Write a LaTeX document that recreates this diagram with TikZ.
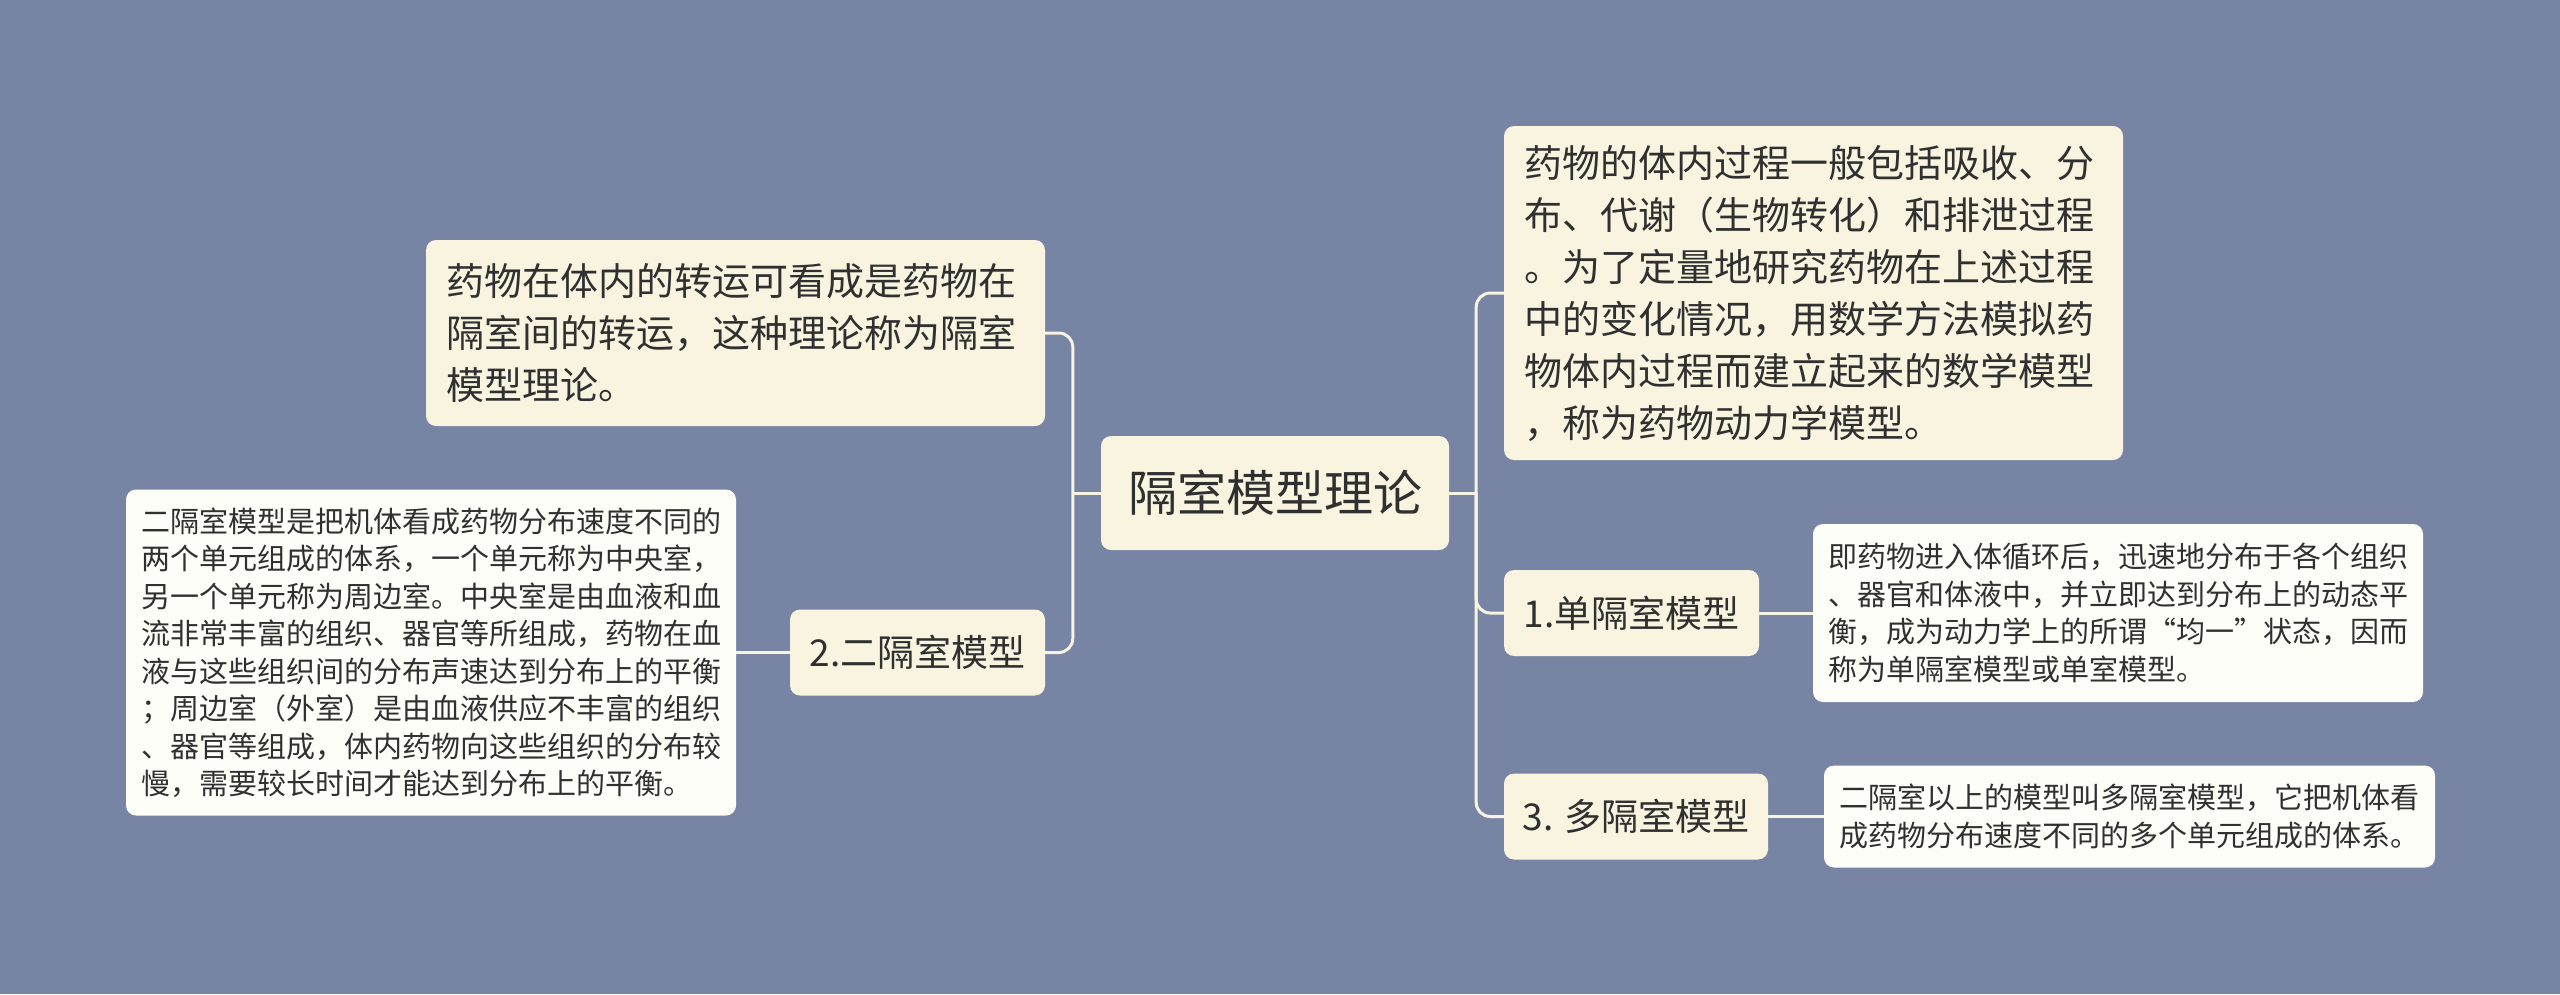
\documentclass[tikz,border=0pt]{standalone}
\usepackage{fontspec}
\setmainfont{Noto Sans CJK SC}
\definecolor{bgcol}{HTML}{7784A4}
\definecolor{nodecol}{HTML}{F8F4E0}
\definecolor{leafcol}{HTML}{FEFEF8}
\definecolor{linkcol}{HTML}{F8F4E2}
\definecolor{textcol}{HTML}{303030}

\begin{document}
\begin{tikzpicture}[x=1pt, y=-1pt,
    topic/.style={fill=nodecol, rounded corners=10pt, text=textcol, inner sep=0pt, align=center},
    root/.style={topic, minimum width=348pt, minimum height=114pt, font=\fontsize{49}{60}\selectfont},
    sub/.style={topic, minimum height=86pt, font=\fontsize{37}{45}\selectfont},
    note/.style={topic, align=left, inner xsep=20pt, font=\fontsize{38}{52}\selectfont},
    leaf/.style={topic, fill=leafcol, align=left, inner xsep=15pt, font=\fontsize{29}{37.5}\selectfont},
    link/.style={draw=linkcol, line width=3pt, rounded corners=14pt}]

    \fill[bgcol] (0,0) rectangle (2560,994);

    \node[root] (root) at (1275,493) {隔室模型理论};

    \node[note, text width=579pt, minimum height=186pt] (def) at (735.5,333)
        {药物在体内的转运可看成是药物在\\隔室间的转运，这种理论称为隔室\\模型理论。};
    \node[sub, minimum width=255pt] (two) at (917.5,652.5) {2.二隔室模型};
    \node[leaf, text width=580pt, minimum height=326pt] (twotxt) at (431,652.5)
        {二隔室模型是把机体看成药物分布速度不同的\\两个单元组成的体系，一个单元称为中央室，\\另一个单元称为周边室。中央室是由血液和血\\流非常丰富的组织、器官等所组成，药物在血\\液与这些组织间的分布声速达到分布上的平衡\\；周边室（外室）是由血液供应不丰富的组织\\、器官等组成，体内药物向这些组织的分布较\\慢，需要较长时间才能达到分布上的平衡。};

    \node[note, text width=579pt, minimum height=334pt] (proc) at (1813.5,293)
        {药物的体内过程一般包括吸收、分\\布、代谢（生物转化）和排泄过程\\。为了定量地研究药物在上述过程\\中的变化情况，用数学方法模拟药\\物体内过程而建立起来的数学模型\\，称为药物动力学模型。};
    \node[sub, minimum width=255pt] (one) at (1631.5,613) {1.单隔室模型};
    \node[leaf, text width=580pt, minimum height=178pt] (onetxt) at (2118,613)
        {即药物进入体循环后，迅速地分布于各个组织\\、器官和体液中，并立即达到分布上的动态平\\衡，成为动力学上的所谓“均一”状态，因而\\称为单隔室模型或单室模型。};
    \node[sub, minimum width=264pt] (three) at (1636,816.5) {3. 多隔室模型};
    \node[leaf, text width=581pt, minimum height=102pt] (threetxt) at (2129.5,816.5)
        {二隔室以上的模型叫多隔室模型，它把机体看\\成药物分布速度不同的多个单元组成的体系。};

    \coordinate (lj) at ([xshift=-28pt]root.west);
    \coordinate (rj) at ([xshift=27pt]root.east);
    \draw[link] (root.west) -- (lj);
    \draw[link] (root.east) -- (rj);
    \foreach \n in {def,two}
        \draw[link] (lj) |- (\n.east);
    \foreach \n in {proc,one,three}
        \draw[link] (rj) |- (\n.west);
    \draw[link] (two.west) -- (twotxt.east);
    \draw[link] (one.east) -- (onetxt.west);
    \draw[link] (three.east) -- (threetxt.west);
\end{tikzpicture}
\end{document}
